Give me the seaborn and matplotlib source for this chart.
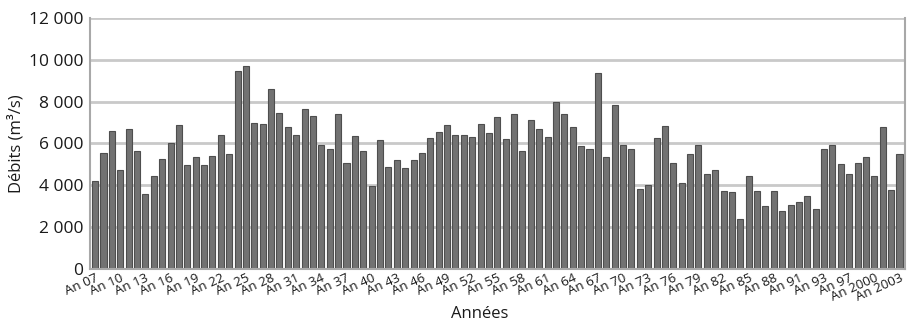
import matplotlib.pyplot as plt
import matplotlib.ticker as mticker
import seaborn as sns
import pandas as pd

# Annual mean discharge, one bar per year (An 07 .. An 2003)
years = [f"An {y:02d}" for y in range(7, 100)] + [f"An {y}" for y in range(2000, 2004)]
debits = [
    4200, 5550, 6600, 4750, 6700, 5620, 3600, 4450, 5250, 6030,
    6860, 4980, 5360, 4980, 5380, 6400, 5480, 9470, 9720, 6960,
    6910, 8620, 7440, 6780, 6400, 7630, 7310, 5930, 5760, 7390,
    5070, 6380, 5640, 3980, 6190, 4880, 5230, 4850, 5190, 5560,
    6270, 6540, 6860, 6400, 6400, 6290, 6910, 6500, 7260, 6220,
    7390, 5630, 7100, 6670, 6320, 7980, 7390, 6780, 5900, 5760,
    9360, 5360, 7840, 5930, 5760, 3820, 4030, 6270, 6830, 5070,
    4110, 5500, 5950, 4560, 4720, 3710, 3660, 2380, 4460, 3710,
    3000, 3710, 2780, 3040, 3200, 3470, 2860, 5760, 5920, 5020,
    4560, 5070, 5360, 4460, 6800, 3790, 5500,
]
# labels shown under the axis (every third bar)
tick_labels = [
    "An 07", "An 10", "An 13", "An 16", "An 19", "An 22", "An 25", "An 28",
    "An 31", "An 34", "An 37", "An 40", "An 43", "An 46", "An 49", "An 52",
    "An 55", "An 58", "An 61", "An 64", "An 67", "An 70", "An 73", "An 76",
    "An 79", "An 82", "An 85", "An 88", "An 91", "An 93", "An 97", "An 2000",
    "An 2003",
]
y_ticks = [0, 2000, 4000, 6000, 8000, 10000, 12000]

df = pd.DataFrame({"annee": years, "debit": debits})

sns.set_style("white")
plt.rcParams["font.family"] = ["Open Sans", "DejaVu Sans"]

fig, ax = plt.subplots(figsize=(9.1, 3.25), dpi=100)
fig.subplots_adjust(left=0.099, right=0.994, top=0.945, bottom=0.172)

# grid behind bars
ax.set_axisbelow(True)
ax.yaxis.grid(True, color="#c9c9c9", linewidth=2)

sns.barplot(
    data=df, x="annee", y="debit", ax=ax,
    color="#727272", saturation=1, width=0.72,
    edgecolor="#4e4e4e", linewidth=0.8,
)

ax.set_ylim(0, 12000)
ax.set_xlim(-0.6, len(years) - 0.4)
ax.set_yticks(y_ticks)
ax.yaxis.set_major_formatter(
    mticker.FuncFormatter(lambda v, p: f"{int(v):,}".replace(",", " "))
)
ax.tick_params(axis="y", labelsize=12.5, length=0, pad=5, labelcolor="#1a1a1a")

ax.set_xticks(range(0, len(years), 3))
ax.set_xticklabels(tick_labels, rotation=24, ha="right",
                   rotation_mode="anchor", fontsize=9.5)
ax.tick_params(axis="x", length=0, pad=2, labelcolor="#1a1a1a")

ax.set_xlabel("Années", fontsize=12, color="#1a1a1a")
ax.set_ylabel("Débits (m³/s)", fontsize=12, color="#1a1a1a")
ax.xaxis.set_label_coords(0.478, -0.145)
ax.yaxis.set_label_coords(-0.081, 0.5)

for side in ["left", "right", "bottom"]:
    ax.spines[side].set_visible(True)
    ax.spines[side].set_color("#a8a8a8")
    ax.spines[side].set_linewidth(1.5)
ax.spines["top"].set_visible(False)

fig.savefig("out.png", dpi=100)
